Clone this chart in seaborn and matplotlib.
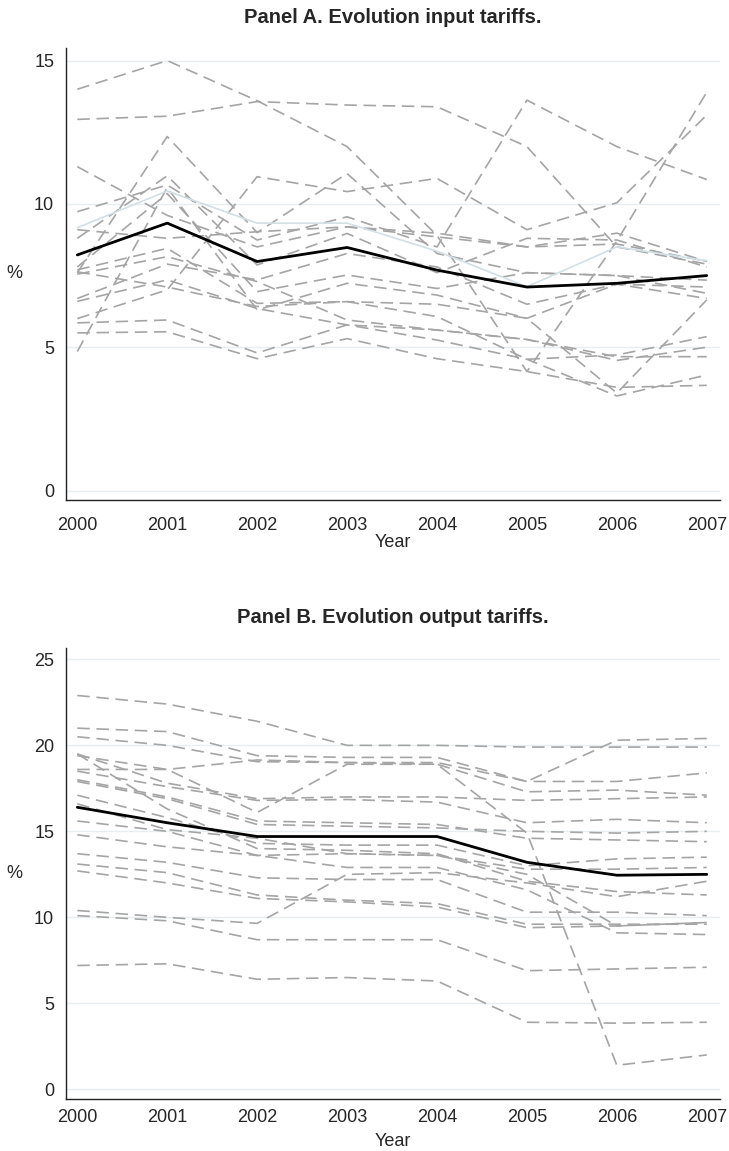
import numpy as np
import matplotlib.pyplot as plt
import seaborn as sns

years = [2000, 2001, 2002, 2003, 2004, 2005, 2006, 2007]

# Panel A: average input tariff (black) and the light highlighted sector
input_mean = [8.22, 9.33, 7.99, 8.48, 7.69, 7.10, 7.23, 7.50]
input_light = [9.17, 10.45, 9.33, 9.33, 8.35, 7.11, 8.50, 8.02]

# Panel A: sector-level input tariffs (grey dashed)
input_sectors = [
    [14.0, 15.0, 13.6, 12.0, 8.9, 4.15, 8.7, 13.9],
    [12.95, 13.06, 13.57, 13.45, 13.39, 12.0, 8.5, 7.9],
    [11.3, 9.6, 8.5, 9.2, 8.85, 8.5, 8.98, 7.99],
    [6.0, 7.0, 10.95, 10.43, 10.89, 9.1, 10.04, 13.1],
    [7.6, 12.35, 9.0, 11.06, 8.27, 7.6, 7.5, 7.34],
    [9.73, 10.66, 8.74, 9.55, 8.5, 13.62, 12.0, 10.85],
    [8.8, 10.98, 7.87, 8.97, 7.6, 8.8, 8.74, 7.8],
    [7.8, 10.36, 6.94, 7.52, 7.05, 7.6, 7.5, 6.88],
    [4.85, 10.57, 6.3, 7.23, 6.82, 6.01, 7.2, 7.1],
    [7.7, 8.45, 6.53, 6.59, 6.07, 4.58, 4.73, 5.37],
    [7.55, 8.16, 7.29, 5.95, 5.6, 5.27, 4.54, 5.0],
    [6.7, 7.9, 7.35, 8.27, 7.8, 6.5, 7.2, 6.7],
    [6.6, 7.35, 6.35, 5.78, 5.25, 4.58, 3.3, 4.03],
    [5.85, 5.95, 4.8, 5.78, 5.6, 5.27, 4.67, 4.67],
    [5.5, 5.54, 4.6, 5.3, 4.6, 4.15, 3.6, 3.67],
    [7.63, 7.1, 6.42, 6.59, 6.5, 6.01, 3.4, 6.65],
    [9.1, 8.8, 9.03, 9.2, 8.98, 8.5, 8.6, 8.0],
]

# Panel B: average output tariff (black)
output_mean = [16.4, 15.5, 14.7, 14.7, 14.7, 13.2, 12.45, 12.5]

# Panel B: sector-level output tariffs (grey dashed)
output_sectors = [
    [22.9, 22.4, 21.4, 20.0, 20.0, 19.9, 19.9, 19.9],
    [21.0, 20.8, 19.4, 19.3, 19.3, 17.9, 20.3, 20.4],
    [20.5, 20.0, 19.05, 19.0, 19.0, 17.9, 17.9, 18.4],
    [19.4, 18.6, 16.1, 18.9, 18.9, 17.3, 17.4, 17.1],
    [18.6, 18.6, 19.15, 19.0, 18.9, 14.9, 1.4, 2.0],
    [19.5, 17.8, 16.9, 17.0, 17.0, 16.8, 16.9, 17.0],
    [18.5, 17.6, 16.8, 16.85, 16.7, 15.5, 15.7, 15.5],
    [19.5, 16.3, 14.0, 13.9, 13.7, 12.1, 11.5, 11.3],
    [18.0, 17.0, 15.6, 15.5, 15.4, 14.6, 14.5, 14.4],
    [17.9, 16.9, 15.4, 15.3, 15.2, 15.0, 14.9, 15.0],
    [17.1, 15.8, 14.3, 14.2, 14.2, 13.0, 13.4, 13.5],
    [16.6, 15.1, 14.6, 13.7, 13.6, 12.8, 12.8, 12.9],
    [15.6, 15.0, 13.6, 12.9, 12.9, 11.6, 9.1, 9.0],
    [14.8, 14.1, 13.6, 13.7, 13.6, 12.5, 9.5, 9.7],
    [13.7, 13.2, 12.3, 12.2, 12.2, 10.3, 10.3, 10.1],
    [13.1, 12.6, 11.3, 11.0, 10.8, 9.6, 9.6, 9.6],
    [12.7, 12.0, 11.1, 10.9, 10.6, 9.4, 9.5, 9.7],
    [10.4, 10.0, 9.65, 12.5, 12.6, 12.0, 11.2, 12.1],
    [10.1, 9.8, 8.7, 8.7, 8.7, 6.9, 7.0, 7.1],
    [7.2, 7.3, 6.4, 6.5, 6.3, 3.9, 3.85, 3.9],
]

sns.set_style("white")
plt.rcParams['font.family'] = ['Liberation Sans', 'DejaVu Sans']

grey = "#a5a5a5"
grid_col = "#e6eef0"


def draw_panel(ax, sectors, mean, title, yticks, ylim, xpad, light=None):
    for s in sectors:
        sns.lineplot(x=years, y=s, ax=ax, color=grey, linewidth=1.2, zorder=2)
        ax.lines[-1].set_dashes([7.5, 4])
    if light is not None:
        sns.lineplot(x=years, y=light, ax=ax, color="#d2e0e6", linewidth=1.2, zorder=3)
    sns.lineplot(x=years, y=mean, ax=ax, color="black", linewidth=2.0, zorder=4)
    ax.set_xlim(1999.874, 2007.15)
    ax.set_ylim(*ylim)
    ax.set_xticks(years)
    ax.set_yticks(yticks)
    ax.yaxis.grid(True, color=grid_col, linewidth=1.0)
    ax.set_axisbelow(True)
    for side in ["top", "right"]:
        ax.spines[side].set_visible(False)
    for side in ["left", "bottom"]:
        ax.spines[side].set_color("#222222")
        ax.spines[side].set_linewidth(1.0)
    ax.tick_params(axis="both", direction="out", length=5, width=1,
                   color="#222222", labelsize=13)
    ax.tick_params(axis="x", pad=xpad)
    ax.set_xlabel("Year", fontsize=13, labelpad=7 - xpad)
    ax.set_ylabel("%", fontsize=13, rotation=0, labelpad=14, va="center")
    ax.set_title(title, fontsize=14.5, fontweight="bold", pad=18)


fig = plt.figure(figsize=(7.29, 11.51), dpi=100)
ax_a = fig.add_axes([0.0905, 0.5656, 0.8975, 0.3927])
ax_b = fig.add_axes([0.0905, 0.0452, 0.8975, 0.3918])

draw_panel(ax_a, input_sectors, input_mean, "Panel A. Evolution input tariffs.",
           [0, 5, 10, 15], (-0.33, 15.44), 7, light=input_light)
draw_panel(ax_b, output_sectors, output_mean, "Panel B. Evolution output tariffs.",
           [0, 5, 10, 15, 20, 25], (-0.56, 25.66), 2)

fig.savefig("out.png", dpi=100)
